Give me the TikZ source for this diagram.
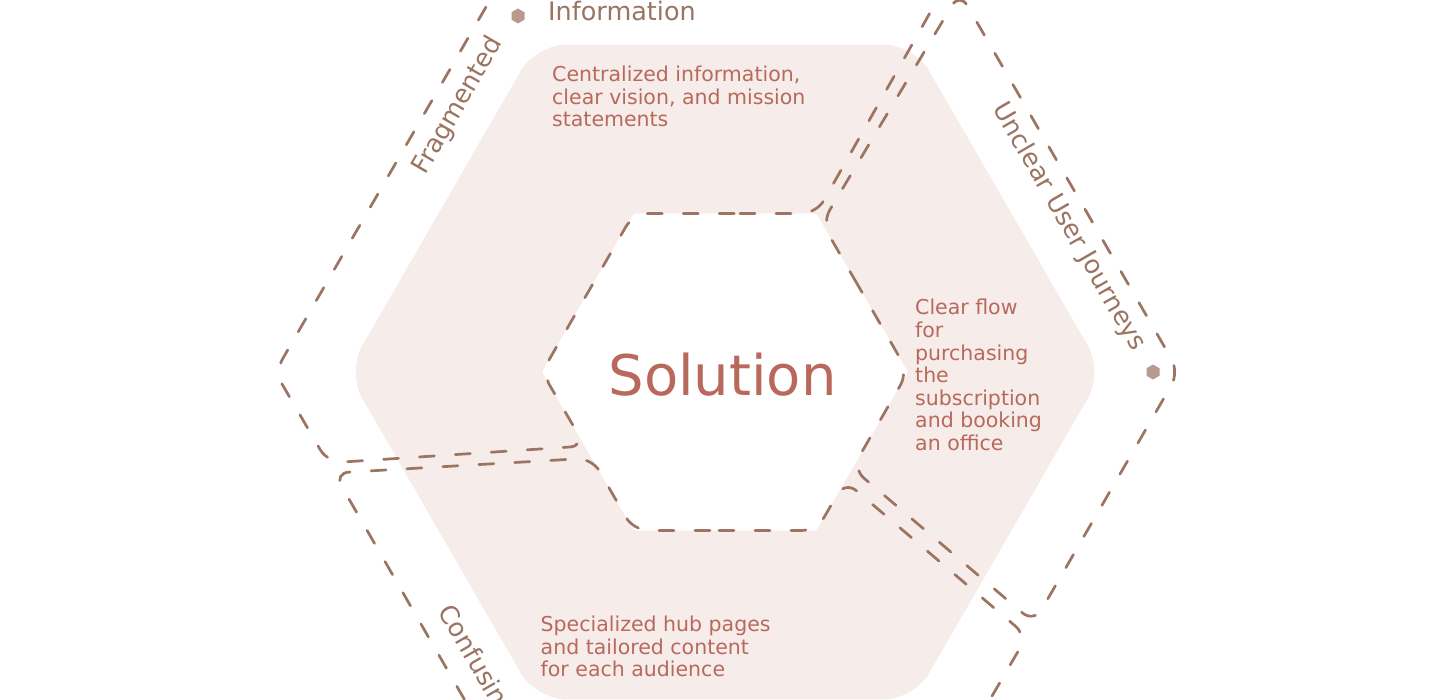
\documentclass[tikz,border=0pt]{standalone}
\usepackage{fontspec}
\setmainfont{DejaVu Sans}
\usetikzlibrary{shapes.geometric}
\definecolor{dashc}{HTML}{9C7461}
\definecolor{labc}{HTML}{9A7462}
\definecolor{textc}{HTML}{B9695C}
\definecolor{pinkc}{HTML}{F6ECEA}
\definecolor{dotc}{HTML}{B89A8E}
\begin{document}
\begin{tikzpicture}[x=1pt,y=-1pt,
  seg/.style={draw=dashc, line width=2.7pt, dash pattern=on 15pt off 21pt, line cap=round, rounded corners=15pt},
  body/.style={text=textc, inner sep=0pt, anchor=base west, font=\fontsize{20.5pt}{22.6pt}\selectfont},
  lab/.style={text=labc, inner sep=0pt, font=\fontsize{25.5pt}{30pt}\selectfont},
  hexdot/.style={fill=dotc, regular polygon, regular polygon sides=6, shape border rotate=30, minimum size=15pt, inner sep=0pt}
]
\useasboundingbox (0,0) rectangle (1450,700);
\clip (0,0) rectangle (1450,700);

% pink hexagon
\fill[pinkc, rounded corners=30pt] (725,44.6) -- (536,44.6) -- (347,372) -- (536,699.4) -- (914,699.4) -- (1103,372) -- (914,44.6) -- cycle;
% white inner hexagon
\fill[white, rounded corners=3pt] (725,213.5) -- (633.5,213.5) -- (542,372) -- (633.5,530.5) -- (816.5,530.5) -- (908,372) -- (816.5,213.5) -- cycle;

% region 1 (top-left)
\draw[seg] (725,213.5) -- (816.5,213.5) -- (944,-12) -- (501,-19) -- (275,372) -- (328,463) -- (585,446) -- (542,372) -- (633.5,213.5) -- cycle;
% region 2 (right)
\draw[seg] (865,297.5) -- (822,223) -- (959.7,-7.5) -- (1179,372) -- (1034,622.7) -- (852.4,468.3) -- (908,372) -- cycle;
% region 3 (bottom-left)
\draw[seg] (725,530.5) -- (633.5,530.5) -- (592,458) -- (334,473) -- (501,763) -- (953,763) -- (1027,636) -- (845,481) -- (816.5,530.5) -- cycle;

% centre
\node[text=textc, font=\fontsize{56pt}{60pt}\selectfont, anchor=base, inner sep=0pt] (sol) at (722.5,395) {Solution};

% body texts
\node[body] (t1) at (552,81.5) {\begin{tabular}[t]{@{}l@{}}Centralized information,\\clear vision, and mission\\statements\end{tabular}};
\node[body] (t2) at (915,315) {\begin{tabular}[t]{@{}l@{}}Clear flow\\for\\purchasing\\the\\subscription\\and booking\\an office\end{tabular}};
\node[body] (t3) at (540.5,631.5) {\begin{tabular}[t]{@{}l@{}}Specialized hub pages\\and tailored content\\for each audience\end{tabular}};

% labels
\node[lab, anchor=base west] (info) at (548,21) {Information};
\node[lab, rotate=60, anchor=mid] (frag) at (462,108) {Fragmented};
\node[lab, rotate=-60, anchor=mid] (ucj) at (1065,229) {Unclear User Journeys};
\node[lab, rotate=-60, anchor=mid west] (conf) at (440,610) {Confusing};

% dots
\node[hexdot] (d1) at (518,16) {};
\node[hexdot] (d2) at (1153,372) {};
\end{tikzpicture}
\end{document}
